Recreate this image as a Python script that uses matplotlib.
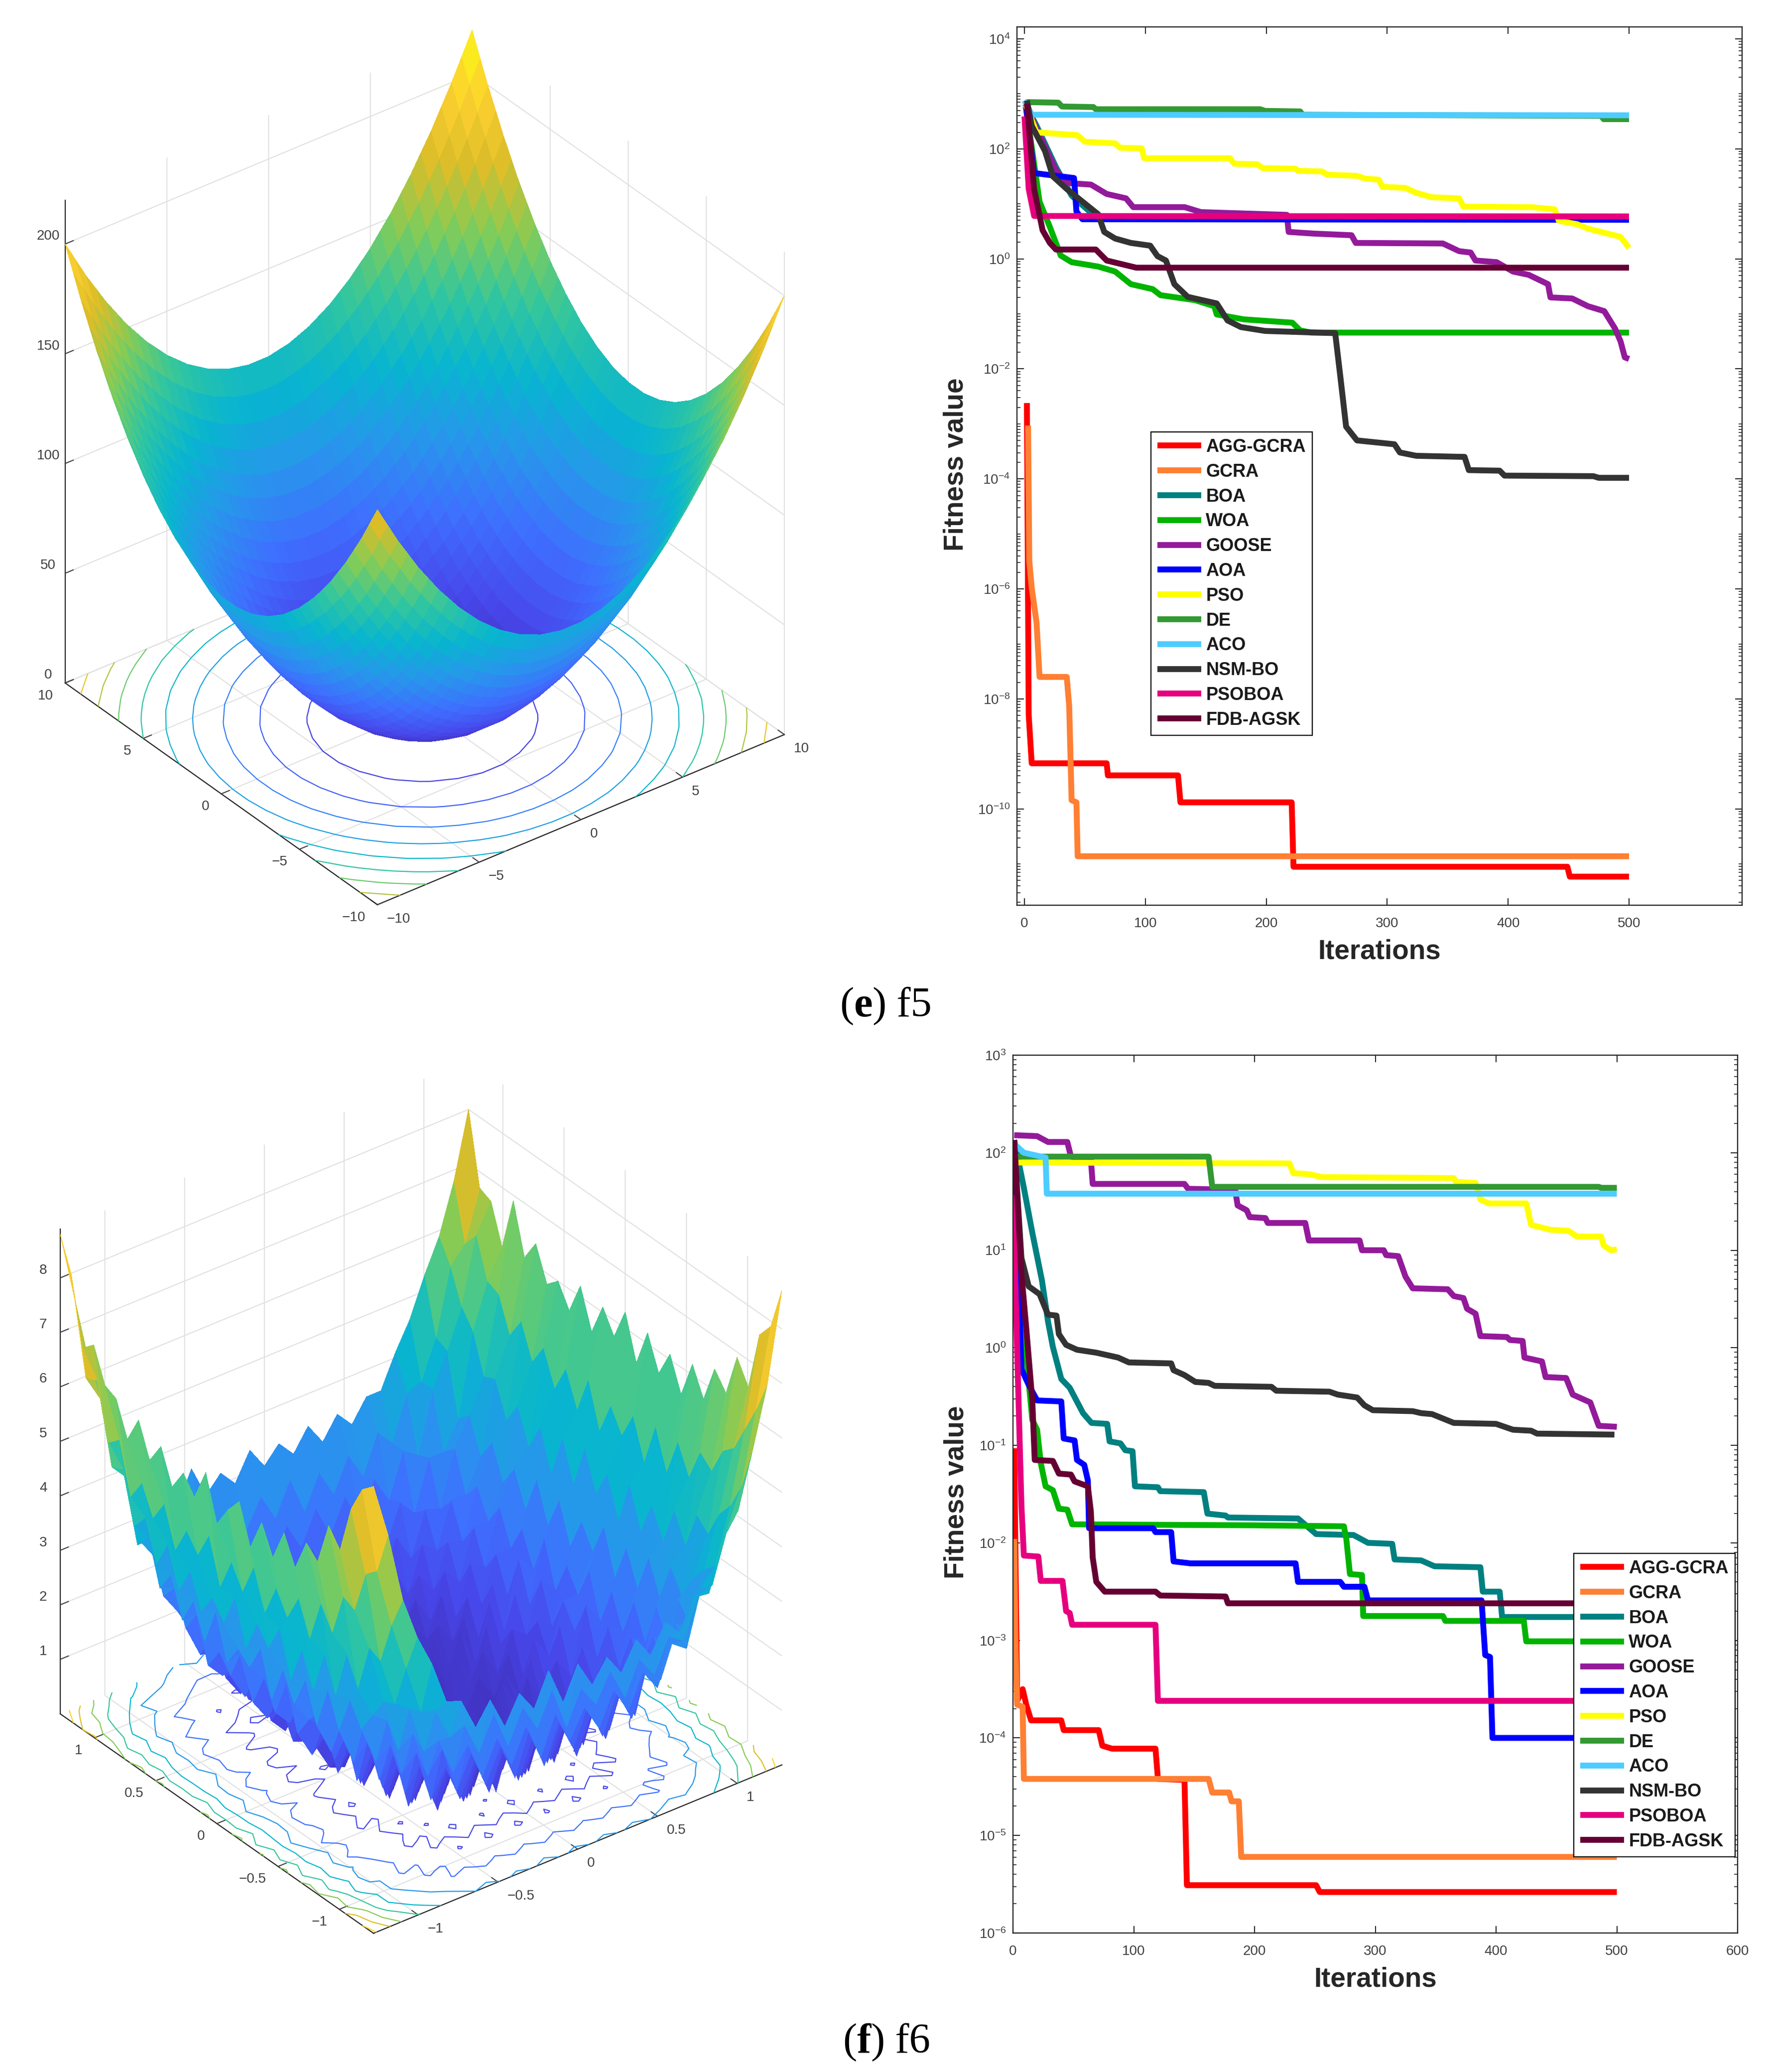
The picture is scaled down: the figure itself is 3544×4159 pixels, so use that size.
"""Two rows: test function surface on the left, convergence curves on the right."""

import matplotlib

matplotlib.use("Agg")
import matplotlib.pyplot as plt
import numpy as np
from matplotlib.colors import LinearSegmentedColormap
from matplotlib.lines import Line2D
from matplotlib.ticker import NullFormatter

W, H = 3544, 4159
DPI = 100

plt.rcParams["font.family"] = ["Liberation Sans", "DejaVu Sans"]
plt.rcParams["mathtext.default"] = "regular"

NAMES = ["AGG-GCRA", "GCRA", "BOA", "WOA", "GOOSE", "AOA", "PSO", "DE", "ACO", "NSM-BO", "PSOBOA", "FDB-AGSK"]
COLORS = ["#ff0000", "#ff7f33", "#008080", "#00b400", "#931a9a", "#0000ff",
          "#ffff00", "#339933", "#4dccff", "#333333", "#e6007e", "#660033"]

# f5 curves, iteration and log10(fitness)
F5_AGG_X = [2, 3.5, 6, 68, 69, 127, 129, 221, 222.5, 449, 451, 500]
F5_AGG_LOG = [-2.62, -8.29, -9.17, -9.17, -9.39, -9.39, -9.88, -9.88, -11.05, -11.05, -11.23, -11.23]
F5_GCRA_X = [3, 4, 6, 10, 12.5, 35, 37, 39, 43, 44, 500]
F5_GCRA_LOG = [-3.03, -5.49, -5.98, -6.61, -7.6, -7.6, -8.13, -9.84, -9.88, -10.86, -10.86]
F5_BOA_X = [1, 10, 26, 39, 57, 66, 500]
F5_BOA_LOG = [2.8, 2.42, 1.67, 1.15, 0.8, 0.77, 0.77]
F5_WOA_X = [1, 12.5, 21, 30, 39, 61, 75, 88, 106, 112.5, 141, 157, 159, 181.5, 221.5, 228, 237, 500]
F5_WOA_LOG = [2.8, 1.04, 0.58, 0.06, -0.06, -0.14, -0.23, -0.46, -0.55, -0.66, -0.75, -0.86, -1.01, -1.1, -1.16, -1.3, -1.34, -1.34]
F5_GOOSE_X = [1, 10, 26, 35, 55, 68, 84, 90, 132.5, 146, 217, 218.5, 239, 270.5, 274, 346, 359.5, 369, 373, 390.5,
              404, 417, 433, 435, 453, 466, 479.5, 488.5, 493, 496.5, 500]
F5_GOOSE_LOG = [2.8, 2.36, 1.61, 1.38, 1.35, 1.18, 1.1, 0.94, 0.94, 0.85, 0.8, 0.49, 0.46, 0.43, 0.29, 0.28, 0.14, 0.115, -0.03, -0.06,
                -0.23, -0.29, -0.46, -0.7, -0.72, -0.86, -0.95, -1.27, -1.5, -1.79, -1.82]
F5_AOA_X = [1, 8, 41, 43, 48, 500]
F5_AOA_LOG = [2.8, 1.56, 1.47, 0.86, 0.72, 0.71]
F5_PSO_X = [1, 10, 43.5, 50, 75, 79, 97, 99, 170, 173.5, 192.5, 197, 224, 226, 246, 250.5, 275, 281.5, 293, 296,
            315, 324, 337, 359.5, 363, 419.5, 438.5, 442, 457, 466, 493, 500]
F5_PSO_LOG = [2.8, 2.3, 2.25, 2.13, 2.1, 2.02, 2.01, 1.83, 1.83, 1.73, 1.72, 1.65, 1.64, 1.6, 1.59, 1.53, 1.51, 1.46, 1.44, 1.31,
              1.29, 1.2, 1.12, 1.1, 0.95, 0.94, 0.9, 0.69, 0.63, 0.55, 0.4, 0.2]
F5_DE_X = [1, 28, 31, 57, 59, 195, 199, 228, 230, 477, 479, 500]
F5_DE_LOG = [2.85, 2.84, 2.77, 2.76, 2.72, 2.72, 2.69, 2.68, 2.62, 2.6, 2.54, 2.54]
F5_ACO_X = [0, 6, 500]
F5_ACO_LOG = [2.88, 2.62, 2.61]
F5_NSM_X = [2, 6, 17, 23.5, 35, 48, 61, 66, 75, 88, 104, 110, 117, 124, 135, 159, 168, 179, 199, 257,
            261.5, 266, 275, 306, 310.5, 324, 364, 367.5, 393, 397, 470.5, 475, 500]
F5_NSM_LOG = [2.88, 2.42, 1.96, 1.5, 1.27, 1.04, 0.81, 0.49, 0.37, 0.29, 0.24, 0.05, -0.03, -0.46, -0.69, -0.81, -1.12, -1.24, -1.31, -1.35,
              -2.19, -3.05, -3.3, -3.37, -3.52, -3.58, -3.6, -3.84, -3.85, -3.94, -3.95, -3.98, -3.98]
F5_PSOBOA_X = [0, 3.5, 8, 500]
F5_PSOBOA_LOG = [2.59, 1.27, 0.78, 0.77]
F5_FDB_X = [2, 8, 15, 21, 26, 59, 68, 92.5, 500]
F5_FDB_LOG = [2.82, 1.27, 0.52, 0.29, 0.17, 0.17, -0.03, -0.16, -0.16]

# f6 curves
F6_AGG_X = [1, 3.5, 8, 11, 15, 40, 42, 71, 74, 82, 118, 120, 142, 144, 251, 254, 500]
F6_AGG_LOG = [-1.03, -3.62, -3.5, -3.66, -3.82, -3.82, -3.92, -3.92, -4.08, -4.11, -4.11, -4.42, -4.43, -5.51, -5.51, -5.58, -5.58]
F6_GCRA_X = [1, 2, 3.5, 8, 9, 162, 165, 179, 181, 187, 189, 500]
F6_GCRA_LOG = [-1.96, -3.02, -3.66, -3.68, -4.42, -4.42, -4.56, -4.56, -4.65, -4.65, -5.22, -5.22]
F6_BOA_X = [1, 9, 16, 24, 29, 33, 40, 47, 58, 65, 78, 80, 89, 93, 99, 101, 120, 122, 158, 161,
            176, 178, 236, 251, 282, 294, 314, 316, 338, 349, 387, 389, 403, 405, 500]
F6_BOA_LOG = [2.13, 1.64, 1.18, 0.69, 0.27, 0.01, -0.32, -0.41, -0.67, -0.77, -0.78, -0.96, -0.98, -1.05, -1.06, -1.42, -1.43, -1.47, -1.48, -1.7,
              -1.72, -1.74, -1.75, -1.91, -1.92, -2.0, -2.01, -2.17, -2.18, -2.24, -2.25, -2.5, -2.5, -2.76, -2.76]
F6_WOA_X = [1, 7, 16, 20, 23, 27, 33, 38, 45, 49, 200, 274, 276, 279, 289, 290, 356, 358, 423, 425, 500]
F6_WOA_LOG = [2.0, 0.43, -0.74, -0.84, -1.18, -1.42, -1.46, -1.65, -1.66, -1.81, -1.82, -1.83, -1.96, -2.32, -2.33, -2.75, -2.75, -2.8, -2.8, -3.01, -3.01]
F6_GOOSE_X = [1, 20, 29, 45, 48, 64.5, 66, 142, 145, 184, 186, 193.5, 196, 209, 211, 242, 245, 287, 289, 307,
              309, 319, 325, 331, 360, 365, 373, 376, 383, 387, 409, 411.5, 422, 423.5, 438, 441, 458, 463.5, 478, 485, 500]
F6_GOOSE_LOG = [2.18, 2.17, 2.11, 2.11, 1.96, 1.93, 1.68, 1.68, 1.63, 1.62, 1.46, 1.41, 1.34, 1.33, 1.28, 1.28, 1.1, 1.1, 1.0, 1.0,
                0.95, 0.94, 0.73, 0.61, 0.6, 0.53, 0.51, 0.4, 0.35, 0.12, 0.11, 0.08, 0.07, -0.1, -0.14, -0.3, -0.31, -0.48, -0.56, -0.8, -0.81]
F6_AOA_X = [1, 7, 13, 20, 40, 42, 51, 53, 59, 62, 63, 116, 118, 131, 133, 147, 234, 236, 271, 274, 291, 294, 388, 391, 395, 397, 500]
F6_AOA_LOG = [2.0, -0.22, -0.38, -0.54, -0.55, -0.93, -0.95, -1.15, -1.2, -1.36, -1.85, -1.85, -1.89, -1.89, -2.19, -2.21, -2.21, -2.4, -2.4, -2.45, -2.45, -2.59, -2.59, -3.15, -3.17, -4.0, -4.0]
F6_PSO_X = [1, 4, 229, 232, 245, 256, 365, 367, 383, 387, 394, 425, 429, 445, 460, 467, 487, 489, 495, 500]
F6_PSO_LOG = [1.93, 1.9, 1.89, 1.79, 1.78, 1.75, 1.74, 1.7, 1.69, 1.52, 1.48, 1.48, 1.26, 1.21, 1.2, 1.14, 1.14, 1.05, 1.0, 1.01]
F6_DE_X = [1, 162, 165, 485, 487, 500]
F6_DE_LOG = [1.96, 1.96, 1.65, 1.65, 1.64, 1.64]
F6_ACO_X = [1, 9, 27, 28, 500]
F6_ACO_LOG = [2.09, 2.0, 1.95, 1.58, 1.58]
F6_NSM_X = [1, 7, 13, 22, 29, 36, 38, 44, 53, 69, 87, 96, 131, 133, 142, 151, 162, 167, 214, 218,
            262, 269, 285, 291, 298, 331, 338, 347, 365, 400, 414, 429, 434, 498]
F6_NSM_LOG = [2.09, 0.92, 0.63, 0.55, 0.34, 0.33, 0.14, 0.03, -0.02, -0.05, -0.1, -0.15, -0.16, -0.23, -0.28, -0.35, -0.36, -0.39, -0.4, -0.44,
              -0.45, -0.48, -0.51, -0.59, -0.64, -0.65, -0.67, -0.68, -0.77, -0.78, -0.84, -0.85, -0.88, -0.89]
F6_PSOBOA_X = [0, 3.5, 7, 9, 21, 23, 41, 44, 47, 49, 118, 120, 500]
F6_PSOBOA_LOG = [1.57, -0.05, -1.62, -2.13, -2.14, -2.39, -2.39, -2.7, -2.72, -2.84, -2.84, -3.62, -3.62]
F6_FDB_X = [1, 7, 11, 16, 18, 33, 38, 48, 51, 62, 64.5, 66, 69, 76, 118, 122, 176, 178, 500]
F6_FDB_LOG = [2.13, 0.76, 0.2, -0.54, -1.15, -1.16, -1.29, -1.3, -1.37, -1.42, -1.68, -2.15, -2.4, -2.5, -2.5, -2.54, -2.55, -2.62, -2.62]

F5_X = [F5_AGG_X, F5_GCRA_X, F5_BOA_X, F5_WOA_X, F5_GOOSE_X, F5_AOA_X, F5_PSO_X, F5_DE_X, F5_ACO_X, F5_NSM_X, F5_PSOBOA_X, F5_FDB_X]
F5_LOG = [F5_AGG_LOG, F5_GCRA_LOG, F5_BOA_LOG, F5_WOA_LOG, F5_GOOSE_LOG, F5_AOA_LOG, F5_PSO_LOG, F5_DE_LOG, F5_ACO_LOG, F5_NSM_LOG, F5_PSOBOA_LOG, F5_FDB_LOG]
F6_X = [F6_AGG_X, F6_GCRA_X, F6_BOA_X, F6_WOA_X, F6_GOOSE_X, F6_AOA_X, F6_PSO_X, F6_DE_X, F6_ACO_X, F6_NSM_X, F6_PSOBOA_X, F6_FDB_X]
F6_LOG = [F6_AGG_LOG, F6_GCRA_LOG, F6_BOA_LOG, F6_WOA_LOG, F6_GOOSE_LOG, F6_AOA_LOG, F6_PSO_LOG, F6_DE_LOG, F6_ACO_LOG, F6_NSM_LOG, F6_PSOBOA_LOG, F6_FDB_LOG]

# f5 surface heights on a half-unit x/y grid from -10 to 10, rows are x
F5_GRID = [-10, -9.5, -9, -8.5, -8, -7.5, -7, -6.5, -6, -5.5, -5, -4.5, -4, -3.5, -3, -2.5, -2, -1.5, -1, -0.5, 0,
           0.5, 1, 1.5, 2, 2.5, 3, 3.5, 4, 4.5, 5, 5.5, 6, 6.5, 7, 7.5, 8, 8.5, 9, 9.5, 10]
F5_Z = [
    [180,171,162,154,146,139,132,126,120,115,110,106,102,99,96,94,92,91,90,90,90,91,92,94,96,99,102,106,110,115,120,126,132,139,146,154,162,171,180,190,200],
    [171,162,153,145,137,130,123,117,111,106,101,97,93,90,87,85,83,82,81,81,81,82,83,85,87,90,93,97,101,106,111,117,123,130,137,145,153,162,171,181,191],
    [162,153,144,136,128,121,114,108,102,97,92,88,84,81,78,76,74,73,72,72,72,73,74,76,78,81,84,88,92,97,102,108,114,121,128,136,144,153,162,172,182],
    [154,145,136,128,120,113,106,100,94,89,84,80,76,73,70,68,66,65,64,64,64,65,66,68,70,73,76,80,84,89,94,100,106,113,120,128,136,145,154,164,174],
    [146,137,128,120,112,105,98,92,86,81,76,72,68,65,62,60,58,57,56,56,56,57,58,60,62,65,68,72,76,81,86,92,98,105,112,120,128,137,146,156,166],
    [139,130,121,113,105,98,91,85,79,74,69,65,61,58,55,53,51,50,49,49,49,50,51,53,55,58,61,65,69,74,79,85,91,98,105,113,121,130,139,149,159],
    [132,123,114,106,98,91,84,78,72,67,62,58,54,51,48,46,44,43,42,42,42,43,44,46,48,51,54,58,62,67,72,78,84,91,98,106,114,123,132,142,152],
    [126,117,108,100,92,85,78,72,66,61,56,52,48,45,42,40,38,37,36,36,36,37,38,40,42,45,48,52,56,61,66,72,78,85,92,100,108,117,126,136,146],
    [120,111,102,94,86,79,72,66,60,55,50,46,42,39,36,34,32,31,30,30,30,31,32,34,36,39,42,46,50,55,60,66,72,79,86,94,102,111,120,130,140],
    [115,106,97,89,81,74,67,61,55,50,45,41,37,34,31,29,27,26,25,25,25,26,27,29,31,34,37,41,45,50,55,61,67,74,81,89,97,106,115,125,135],
    [110,101,92,84,76,69,62,56,50,45,40,36,32,29,26,24,22,21,20,20,20,21,22,24,26,29,32,36,40,45,50,56,62,69,76,84,92,101,110,120,130],
    [106,97,88,80,72,65,58,52,46,41,36,32,28,25,22,20,18,17,16,16,16,17,18,20,22,25,28,32,36,41,46,52,58,65,72,80,88,97,106,116,126],
    [102,93,84,76,68,61,54,48,42,37,32,28,24,21,18,16,14,13,12,12,12,13,14,16,18,21,24,28,32,37,42,48,54,61,68,76,84,93,102,112,122],
    [99,90,81,73,65,58,51,45,39,34,29,25,21,18,15,13,11,10,9,9,9,10,11,13,15,18,21,25,29,34,39,45,51,58,65,73,81,90,99,109,119],
    [96,87,78,70,62,55,48,42,36,31,26,22,18,15,12,10,8,7,6,6,6,7,8,10,12,15,18,22,26,31,36,42,48,55,62,70,78,87,96,106,116],
    [94,85,76,68,60,53,46,40,34,29,24,20,16,13,10,8,6,5,4,4,4,5,6,8,10,13,16,20,24,29,34,40,46,53,60,68,76,85,94,104,114],
    [92,83,74,66,58,51,44,38,32,27,22,18,14,11,8,6,4,3,2,2,2,3,4,6,8,11,14,18,22,27,32,38,44,51,58,66,74,83,92,102,112],
    [91,82,73,65,57,50,43,37,31,26,21,17,13,10,7,5,3,2,1,1,1,2,3,5,7,10,13,17,21,26,31,37,43,50,57,65,73,82,91,101,111],
    [90,81,72,64,56,49,42,36,30,25,20,16,12,9,6,4,2,1,0,0,0,1,2,4,6,9,12,16,20,25,30,36,42,49,56,64,72,81,90,100,110],
    [90,81,72,64,56,49,42,36,30,25,20,16,12,9,6,4,2,1,0,0,0,1,2,4,6,9,12,16,20,25,30,36,42,49,56,64,72,81,90,100,110],
    [90,81,72,64,56,49,42,36,30,25,20,16,12,9,6,4,2,1,0,0,0,1,2,4,6,9,12,16,20,25,30,36,42,49,56,64,72,81,90,100,110],
    [91,82,73,65,57,50,43,37,31,26,21,17,13,10,7,5,3,2,1,1,1,2,3,5,7,10,13,17,21,26,31,37,43,50,57,65,73,82,91,101,111],
    [92,83,74,66,58,51,44,38,32,27,22,18,14,11,8,6,4,3,2,2,2,3,4,6,8,11,14,18,22,27,32,38,44,51,58,66,74,83,92,102,112],
    [94,85,76,68,60,53,46,40,34,29,24,20,16,13,10,8,6,5,4,4,4,5,6,8,10,13,16,20,24,29,34,40,46,53,60,68,76,85,94,104,114],
    [96,87,78,70,62,55,48,42,36,31,26,22,18,15,12,10,8,7,6,6,6,7,8,10,12,15,18,22,26,31,36,42,48,55,62,70,78,87,96,106,116],
    [99,90,81,73,65,58,51,45,39,34,29,25,21,18,15,13,11,10,9,9,9,10,11,13,15,18,21,25,29,34,39,45,51,58,65,73,81,90,99,109,119],
    [102,93,84,76,68,61,54,48,42,37,32,28,24,21,18,16,14,13,12,12,12,13,14,16,18,21,24,28,32,37,42,48,54,61,68,76,84,93,102,112,122],
    [106,97,88,80,72,65,58,52,46,41,36,32,28,25,22,20,18,17,16,16,16,17,18,20,22,25,28,32,36,41,46,52,58,65,72,80,88,97,106,116,126],
    [110,101,92,84,76,69,62,56,50,45,40,36,32,29,26,24,22,21,20,20,20,21,22,24,26,29,32,36,40,45,50,56,62,69,76,84,92,101,110,120,130],
    [115,106,97,89,81,74,67,61,55,50,45,41,37,34,31,29,27,26,25,25,25,26,27,29,31,34,37,41,45,50,55,61,67,74,81,89,97,106,115,125,135],
    [120,111,102,94,86,79,72,66,60,55,50,46,42,39,36,34,32,31,30,30,30,31,32,34,36,39,42,46,50,55,60,66,72,79,86,94,102,111,120,130,140],
    [126,117,108,100,92,85,78,72,66,61,56,52,48,45,42,40,38,37,36,36,36,37,38,40,42,45,48,52,56,61,66,72,78,85,92,100,108,117,126,136,146],
    [132,123,114,106,98,91,84,78,72,67,62,58,54,51,48,46,44,43,42,42,42,43,44,46,48,51,54,58,62,67,72,78,84,91,98,106,114,123,132,142,152],
    [139,130,121,113,105,98,91,85,79,74,69,65,61,58,55,53,51,50,49,49,49,50,51,53,55,58,61,65,69,74,79,85,91,98,105,113,121,130,139,149,159],
    [146,137,128,120,112,105,98,92,86,81,76,72,68,65,62,60,58,57,56,56,56,57,58,60,62,65,68,72,76,81,86,92,98,105,112,120,128,137,146,156,166],
    [154,145,136,128,120,113,106,100,94,89,84,80,76,73,70,68,66,65,64,64,64,65,66,68,70,73,76,80,84,89,94,100,106,113,120,128,136,145,154,164,174],
    [162,153,144,136,128,121,114,108,102,97,92,88,84,81,78,76,74,73,72,72,72,73,74,76,78,81,84,88,92,97,102,108,114,121,128,136,144,153,162,172,182],
    [171,162,153,145,137,130,123,117,111,106,101,97,93,90,87,85,83,82,81,81,81,82,83,85,87,90,93,97,101,106,111,117,123,130,137,145,153,162,171,181,191],
    [180,171,162,154,146,139,132,126,120,115,110,106,102,99,96,94,92,91,90,90,90,91,92,94,96,99,102,106,110,115,120,126,132,139,146,154,162,171,180,190,200],
    [190,181,172,164,156,149,142,136,130,125,120,116,112,109,106,104,102,101,100,100,100,101,102,104,106,109,112,116,120,125,130,136,142,149,156,164,172,181,190,200,210],
    [200,191,182,174,166,159,152,146,140,135,130,126,122,119,116,114,112,111,110,110,110,111,112,114,116,119,122,126,130,135,140,146,152,159,166,174,182,191,200,210,220],
]
F5_LEVELS = [20, 40, 60, 80, 100, 120, 140, 160, 180, 200]

# f6 surface heights, estimated, 29 columns from -1.28 to 1.28
F6_GRID = [-1.28, -1.189, -1.097, -1.006, -0.914, -0.823, -0.731, -0.64, -0.549, -0.457, -0.366, -0.274, -0.183, -0.091, 0,
           0.091, 0.183, 0.274, 0.366, 0.457, 0.549, 0.64, 0.731, 0.823, 0.914, 1.006, 1.097, 1.189, 1.28]
F6_Z = [
    [8.2,8.0,7.5,6.6,6.9,6.1,6.3,5.7,6.2,5.6,6.1,5.5,6.2,5.9,5.5,6.3,5.7,6.0,5.6,6.2,5.8,6.4,5.9,6.5,6.6,7.2,7.0,8.2,8.8],
    [7.2,6.4,6.2,5.4,5.5,4.7,5.1,4.3,4.9,4.4,4.8,4.2,4.9,4.3,4.7,4.1,4.9,4.4,4.7,4.2,4.9,4.5,5.0,4.6,5.5,5.3,6.3,6.2,7.5],
    [5.9,5.3,4.5,4.6,3.7,4.2,3.3,3.9,3.1,3.7,3.0,3.8,3.3,3.6,3.0,3.8,3.2,3.5,3.1,3.7,3.2,3.9,3.4,4.1,3.8,4.7,4.6,5.7,6.2],
    [5.1,4.4,3.6,3.5,3.1,2.7,3.1,2.4,3.0,2.2,2.9,2.3,2.8,2.1,2.9,2.4,2.6,2.2,3.0,2.3,2.9,2.4,3.1,2.7,3.5,3.2,4.3,4.5,5.5],
    [4.5,3.5,3.4,2.5,2.9,2.0,2.6,1.7,2.3,1.6,2.2,1.9,1.5,2.3,1.6,2.1,1.5,2.3,1.7,2.0,1.6,2.4,2.0,2.6,2.3,3.2,3.0,4.1,4.6],
    [3.7,3.4,2.5,2.7,1.8,2.2,1.4,2.0,1.1,1.8,1.2,1.7,1.0,1.9,1.3,1.6,1.1,1.8,1.2,1.6,1.3,1.9,1.4,2.2,1.9,2.6,2.6,3.6,4.2],
    [3.6,2.8,2.6,1.8,2.1,1.2,1.8,1.0,1.5,0.8,1.4,0.7,1.3,0.9,1.5,0.7,1.2,0.8,1.4,0.9,1.5,1.0,1.3,1.7,1.4,2.3,2.2,3.2,3.4],
    [3.0,2.9,1.9,2.2,1.1,1.6,0.7,1.3,0.6,1.2,0.5,1.1,0.8,0.4,1.2,0.6,1.0,0.5,1.2,0.7,1.1,0.6,1.4,0.9,1.7,1.5,2.6,2.6,3.3],
    [3.4,2.3,2.3,1.3,1.6,0.8,1.2,0.5,1.1,0.3,0.9,0.6,1.0,0.3,0.7,1.1,0.4,0.9,0.3,1.0,0.5,1.2,0.7,1.4,1.2,2.0,1.8,3.0,2.9],
    [2.8,2.9,1.6,1.9,0.9,1.4,0.4,1.1,0.3,0.9,0.2,1.0,0.5,0.8,0.2,0.9,0.4,1.0,0.2,0.7,0.4,1.0,0.4,1.3,0.9,1.7,1.9,2.4,3.5],
    [3.3,2.2,2.2,1.2,1.5,0.6,1.2,0.3,1.0,0.2,0.8,0.1,0.9,0.3,0.9,0.1,0.7,0.3,0.9,0.2,0.8,0.3,1.1,0.6,1.5,1.2,2.3,2.1,2.9],
    [2.9,2.8,1.6,1.8,0.8,1.3,0.4,1.0,0.2,0.8,0.1,0.9,0.3,0.7,0.1,0.8,0.2,0.9,0.1,0.6,0.4,0.9,0.4,1.2,0.8,1.8,1.6,2.8,3.2],
    [3.5,2.3,2.2,1.1,1.6,0.7,1.1,0.2,0.9,0.1,0.7,0.2,0.8,0.1,0.6,0.2,0.9,0.1,0.7,0.2,0.8,0.2,1.0,0.5,1.4,1.1,2.2,2.2,2.9],
    [2.8,2.9,1.5,1.9,0.8,1.4,0.3,1.1,0.1,0.9,0.2,0.8,0.1,0.9,0.2,0.7,0.1,0.8,0.3,0.6,0.1,0.9,0.5,1.2,0.8,1.7,1.6,2.7,3.4],
    [3.4,2.1,2.2,1.1,1.5,0.6,1.2,0.3,0.8,0.1,0.9,0.1,0.6,0.2,0.8,0.1,0.7,0.2,0.9,0.1,0.8,0.3,1.1,0.5,1.5,1.1,2.2,2.2,3.0],
    [2.9,2.7,1.6,1.8,0.9,1.2,0.4,1.0,0.2,0.7,0.1,0.8,0.3,0.8,0.1,0.9,0.2,0.6,0.1,0.8,0.3,0.8,0.4,1.3,0.9,1.8,1.7,2.8,3.3],
    [3.3,2.3,2.1,1.2,1.6,0.7,1.1,0.2,0.9,0.2,0.8,0.1,0.7,0.2,0.9,0.1,0.8,0.3,0.7,0.2,0.9,0.2,1.0,0.6,1.4,1.2,2.3,2.1,3.0],
    [2.9,2.8,1.6,1.9,0.8,1.3,0.4,1.0,0.2,0.8,0.2,0.9,0.1,0.8,0.2,0.9,0.1,0.8,0.2,0.7,0.3,0.9,0.4,1.2,0.9,1.7,1.7,2.7,3.4],
    [3.4,2.2,2.2,1.2,1.5,0.7,1.2,0.3,1.0,0.1,0.8,0.2,0.9,0.1,0.7,0.3,0.8,0.1,0.9,0.2,0.8,0.3,1.1,0.5,1.5,1.2,2.3,2.2,3.0],
    [3.0,2.8,1.7,1.9,0.9,1.4,0.5,1.1,0.3,0.9,0.2,1.0,0.4,0.8,0.2,0.9,0.3,1.0,0.2,0.8,0.4,1.0,0.5,1.3,0.9,1.8,1.7,2.8,3.4],
    [3.5,2.4,2.3,1.3,1.7,0.8,1.3,0.5,1.1,0.3,1.0,0.4,1.1,0.3,0.9,0.4,1.1,0.3,1.0,0.4,1.1,0.5,1.2,0.7,1.6,1.3,2.4,2.3,3.1],
    [3.2,3.0,1.9,2.2,1.1,1.6,0.8,1.3,0.6,1.2,0.5,1.1,0.6,1.2,0.4,1.1,0.7,1.3,0.5,1.1,0.6,1.3,0.8,1.5,1.1,2.0,1.9,3.0,3.5],
    [3.8,2.8,2.6,1.8,2.1,1.2,1.7,1.0,1.5,0.9,1.4,0.7,1.5,0.8,1.3,0.9,1.5,0.7,1.4,0.9,1.5,1.0,1.6,1.3,1.9,1.7,2.7,2.7,3.5],
    [3.7,3.5,2.4,2.7,1.8,2.2,1.5,1.9,1.2,1.8,1.1,1.9,1.3,1.7,1.1,1.8,1.2,1.9,1.1,1.7,1.3,1.9,1.5,2.1,1.8,2.6,2.5,3.5,4.1],
    [4.6,3.6,3.4,2.6,2.9,2.0,2.5,1.7,2.3,1.6,2.2,1.5,2.3,1.7,2.1,1.5,2.3,1.6,2.2,1.7,2.3,1.9,2.4,2.1,2.8,2.6,3.6,3.6,4.6],
    [5.0,4.5,3.7,3.5,3.2,2.7,3.1,2.4,3.0,2.3,2.9,2.2,3.0,2.4,2.8,2.2,2.9,2.3,3.0,2.3,2.9,2.5,3.1,2.7,3.3,3.1,4.2,4.3,5.3],
    [6.0,5.2,4.7,4.4,3.9,4.1,3.4,3.9,3.2,3.7,3.1,3.8,3.0,3.7,3.2,3.9,3.1,3.8,3.0,3.7,3.2,3.8,3.4,4.0,3.9,4.6,4.9,5.5,5.9],
    [7.1,6.5,6.0,5.5,5.3,4.8,5.0,4.4,4.9,4.2,4.9,4.1,4.8,4.3,4.7,4.1,4.9,4.2,4.8,4.3,4.9,4.5,5.1,4.7,5.3,5.4,6.1,5.8,6.8],
    [8.7,7.9,7.6,6.5,6.9,6.1,6.4,5.7,6.2,5.5,6.1,5.6,6.2,5.5,6.3,5.7,6.1,5.5,6.2,5.6,6.0,5.8,6.4,6.0,6.9,5.9,6.6,6.7,8.0],
]
F6_LEVELS = [1, 2, 3, 4, 5, 6, 7, 8]

PARULA = LinearSegmentedColormap.from_list(
    "parula",
    [(0.2422, 0.1504, 0.6603), (0.2803, 0.2782, 0.9221), (0.2440, 0.4358, 0.9988), (0.1540, 0.5902, 0.9218),
     (0.0297, 0.7082, 0.8163), (0.1938, 0.7758, 0.6251), (0.5044, 0.7993, 0.3480), (0.8634, 0.7406, 0.1596),
     (0.9892, 0.8136, 0.1885), (0.9769, 0.9839, 0.0805)],
)

INK = "#262626"
TICK_INK = "#404040"


def px_rect(left, top, width, height):
    return [left / W, 1 - (top + height) / H, width / W, height / H]


def draw_surface(fig, rect, grid, z, levels, ticks, tick_labels, zticks, zlim, elev, box_z):
    ax = fig.add_axes(px_rect(*rect), projection="3d", computed_zorder=False)
    ax.patch.set_alpha(0)
    xx, yy = np.meshgrid(grid, grid, indexing="ij")
    zz = np.array(z, dtype=float)
    ax.contour(xx, yy, zz, levels=levels, zdir="z", offset=0, cmap=PARULA, vmin=0, vmax=zlim,
               linewidths=1.6, zorder=1)
    ax.plot_surface(xx, yy, zz, rstride=1, cstride=1, cmap=PARULA, vmin=0, vmax=zlim,
                    linewidth=0, antialiased=False, shade=False, zorder=2)
    ax.view_init(elev=elev, azim=-127.5)
    ax.set_proj_type("ortho")
    ax.set_box_aspect((1, 1, box_z))
    ax.set_xlim(grid[0], grid[-1], view_margin=0)
    ax.set_ylim(grid[0], grid[-1], view_margin=0)
    ax.set_zlim(0, zlim, view_margin=0)
    ax.set_xticks(ticks, tick_labels)
    ax.set_yticks(ticks, tick_labels)
    ax.set_zticks(zticks)
    for axis in (ax.xaxis, ax.yaxis, ax.zaxis):
        axis.pane.set_facecolor("none")
        axis.pane.set_edgecolor("none")
        axis.line.set_color(INK)
        axis.line.set_linewidth(1.6)
        axis._axinfo["grid"].update(color="#e0e0e0", linewidth=1.5)
        axis._axinfo["tick"].update(inward_factor=0.0, outward_factor=0.25)
        axis._axinfo["tick"]["linewidth"] = {True: 1.5, False: 1.0}
        axis._axinfo["tick"]["color"] = INK
    ax.tick_params(axis="both", labelsize=20, labelcolor=TICK_INK, colors=TICK_INK, pad=12)
    ax.tick_params(axis="z", labelsize=20, labelcolor=TICK_INK, colors=TICK_INK, pad=8)
    for label in ax.xaxis.get_ticklabels():
        label.set_ha("left")
        label.set_va("bottom")
    for label in ax.yaxis.get_ticklabels():
        label.set_ha("right")
        label.set_va("bottom")
    for label in ax.zaxis.get_ticklabels():
        label.set_va("bottom")
    return ax


def draw_curves(fig, rect, xs, logs, xlim, ylim, major_exp, label_x, legend_at):
    ax = fig.add_axes(px_rect(*rect))
    for x, log_y, name, color in zip(xs, logs, NAMES, COLORS):
        ax.plot(x, 10.0 ** np.array(log_y), color=color, lw=8.5, solid_capstyle="butt", label=name)
    ax.set_yscale("log")
    ax.set_xlim(*xlim)
    ax.set_ylim(*ylim)
    ax.set_xticks([0, 100, 200, 300, 400, 500] if xlim[1] < 600 else [0, 100, 200, 300, 400, 500, 600])
    ax.set_yticks([10.0**e for e in major_exp], [f"$10^{{{e}}}$" for e in major_exp])
    lo, hi = int(np.floor(np.log10(ylim[0]))), int(np.ceil(np.log10(ylim[1])))
    minor = [m * 10.0**e for e in range(lo, hi + 1) for m in range(1, 10)]
    minor = [v for v in minor if ylim[0] <= v <= ylim[1]]
    ax.set_yticks(minor, minor=True)
    ax.yaxis.set_minor_formatter(NullFormatter())
    ax.tick_params(axis="both", which="major", direction="in", length=10, width=1.5, top=True, right=True,
                   labelsize=20, labelcolor=TICK_INK, color=INK)
    ax.tick_params(axis="x", which="major", pad=17)
    ax.tick_params(axis="y", which="major", pad=10)
    ax.tick_params(axis="y", which="minor", direction="in", length=5, width=1.2, right=True, color=INK)
    for spine in ax.spines.values():
        spine.set_linewidth(1.7)
        spine.set_color(INK)
    ax.set_xlabel("Iterations", fontsize=39.5, fontweight="bold", color=INK, va="center")
    ax.xaxis.set_label_coords(0.5, -0.053)
    ax.set_ylabel("Fitness value", fontsize=39.5, fontweight="bold", color=INK, va="center")
    ax.yaxis.set_label_coords(label_x, 0.502)
    handles = [Line2D([], [], color=c, lw=8.5, solid_capstyle="butt") for c in COLORS]
    leg = ax.legend(handles, NAMES, loc="upper left", bbox_to_anchor=(legend_at[0] / W, 1 - legend_at[1] / H),
                    bbox_transform=fig.transFigure, borderaxespad=0, frameon=True, fancybox=False,
                    edgecolor="#111111", framealpha=1, handlelength=2.45, handletextpad=0.24, labelspacing=0.41,
                    borderpad=0.36, prop={"weight": "bold", "size": 26})
    leg.get_frame().set_linewidth(1.7)
    for text in leg.get_texts():
        text.set_color("#1a1a1a")
    return ax


def caption(fig, letter, rest, xs, baseline):
    serif = ["Liberation Serif", "DejaVu Serif"]
    y = 1 - baseline / H
    fig.text(xs[0] / W, y, "(", family=serif, fontsize=61, color="black")
    fig.text(xs[1] / W, y, letter, family=serif, fontsize=61, fontweight="bold", color="black")
    fig.text(xs[2] / W, y, ")", family=serif, fontsize=61, color="black")
    fig.text(xs[3] / W, y, rest, family=serif, fontsize=61, color="black")


fig = plt.figure(figsize=(W / DPI, H / DPI), dpi=DPI, facecolor="white")

draw_surface(fig, (-74, 60, 1805, 1805), F5_GRID, F5_Z, F5_LEVELS, [-10, -5, 0, 5, 10],
             ["\u221210", "\u22125", "0", "5", "10"], [0, 50, 100, 150, 200], 220, 33, 1.122)
draw_surface(fig, (-83, 2125, 1808, 1808), F6_GRID, F6_Z, F6_LEVELS, [-1, -0.5, 0, 0.5, 1],
             ["\u22121", "\u22120.5", "0", "0.5", "1"], [1, 2, 3, 4, 5, 6, 7, 8], 8.9, 32.5, 1.117)

draw_curves(fig, (2042, 54, 1456, 1763), F5_X, F5_LOG, (-6.2, 593.5), (10.0**-11.75, 10.0**4.217),
            [-10, -8, -6, -4, -2, 0, 2, 4], -0.084, (2311, 867))
draw_curves(fig, (2034, 2118, 1455, 1762), F6_X, F6_LOG, (0, 600), (1e-6, 1e3),
            [-6, -5, -4, -3, -2, -1, 0, 1, 2, 3], -0.078, (3160, 3118))

caption(fig, "e", " f5", (1686, 1714, 1751, 1779), 2040)
caption(fig, "f", " f6", (1692, 1720, 1748, 1776), 4120)

fig.savefig("out.png", dpi=DPI)
